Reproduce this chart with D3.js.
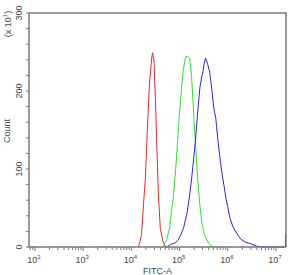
<!DOCTYPE html>
<html>
<head>
<meta charset="utf-8">
<script src="https://cdn.jsdelivr.net/npm/d3@7"></script>
<style>
  body { margin: 0; background: #fff; }
  text { font-family: "Liberation Sans", Arial, sans-serif; fill: #444; }
</style>
</head>
<body>
<div id="chart"></div>
<script>
// kích thước
const width = 293;
const height = 275;
const margin = { top: 13, right: 7, bottom: 28, left: 29 };

// dữ liệu histogram (FITC-A, Count/10)
const redFitc = [14000, 16200, 17800, 19500, 21400, 23700, 26300, 27500, 29500, 31600, 33900, 36300, 39800, 44700, 51300];
const redCount = [0, 15, 54, 88, 150, 208, 242, 249, 237, 188, 124, 67, 24, 8, 0];

const greenFitc = [44300, 53700, 61700, 67600, 75000, 83200, 91200, 100000, 109600, 120200, 133400, 147900, 162200, 177800, 195000, 213800, 237100, 263000, 288400, 331100, 398100, 489800];
const greenCount = [0, 9, 24, 45, 67, 101, 137, 173, 204, 229, 244, 244, 242, 217, 173, 131, 88, 54, 32, 15, 5, 0];

const blueFitc = [53700, 64600, 79400, 91200, 104700, 120200, 141300, 162200, 177800, 195000, 213800, 237100, 263000, 288400, 302000, 323600, 346700, 380200, 421700, 467700, 512900, 562300, 616600, 676100, 749900, 831800, 912000, 1000000, 1096000, 1259000, 1549000, 1862000, 2371000, 3020000, 3981000, 5370000, 15000000, 15700000, 15700000, 16100000];
const blueCount = [0, 3, 5, 8, 15, 24, 42, 67, 88, 112, 137, 173, 204, 219, 223, 235, 242, 235, 224, 201, 178, 165, 140, 118, 96, 79, 63, 51, 38, 27, 17, 10, 6, 4, 1, 0, 0, 0, 16, 16];

const yTicks = [0, 100, 200, 300];
const xDecades = [100, 1000, 10000, 100000, 1000000, 10000000];
const xExp = ["2", "3", "4", "5", "6", "7"];

const svg = d3.select("#chart")
  .append("svg")
  .attr("width", width)
  .attr("height", height);

const x = d3.scaleLog()
  .domain([75.2, 16100000])
  .range([margin.left, width - margin.right]);

const y = d3.scaleLinear()
  .domain([0, 300])
  .range([height - margin.bottom, margin.top]);

const line = d3.line()
  .x(d => x(d[0]))
  .y(d => y(d[1]));

function drawCurve(fitc, count, color) {
  svg.append("path")
    .datum(fitc.map((v, i) => [v, count[i]]))
    .attr("d", line)
    .attr("fill", "none")
    .attr("stroke", color)
    .attr("stroke-width", 1);
}

drawCurve(redFitc, redCount, "#e82828");
drawCurve(greenFitc, greenCount, "#2ede2e");
drawCurve(blueFitc, blueCount, "#2a2acc");

// khung
const axisColor = "#7a7a7a";
const x0 = margin.left, x1 = width - margin.right;
const y0 = height - margin.bottom, y1 = margin.top;

svg.append("path")
  .attr("d", `M${x0},${y1}H${x1}V${y0}`)
  .attr("fill", "none")
  .attr("stroke", axisColor)
  .attr("stroke-width", 1.5);

svg.append("path")
  .attr("d", `M${x0},${y1}V${y0}H${x1}`)
  .attr("fill", "none")
  .attr("stroke", axisColor)
  .attr("stroke-width", 1.5);

// trục y: vạch nhỏ mỗi 20
svg.selectAll(".ytick")
  .data(d3.range(0, 301, 20))
  .enter()
  .append("line")
  .attr("x1", x0 - 3)
  .attr("x2", x0)
  .attr("y1", d => y(d))
  .attr("y2", d => y(d))
  .attr("stroke", axisColor)
  .attr("stroke-width", 1);

svg.selectAll(".ylabel")
  .data(yTicks)
  .enter()
  .append("text")
  .attr("transform", d => `translate(22,${y(d)}) rotate(-90)`)
  .attr("text-anchor", "middle")
  .attr("font-size", 9)
  .text(d => d);

// trục x: log ticks
const minor = [];
xDecades.concat([10]).forEach(dec => {
  for (let k = 2; k <= 9; k++) {
    const v = dec * k;
    if (v >= x.domain()[0] && v <= x.domain()[1]) minor.push(v);
  }
});

svg.selectAll(".xminor")
  .data(minor)
  .enter()
  .append("line")
  .attr("x1", d => x(d))
  .attr("x2", d => x(d))
  .attr("y1", y0)
  .attr("y2", y0 + 3)
  .attr("stroke", axisColor)
  .attr("stroke-width", 1);

svg.selectAll(".xmajor")
  .data(xDecades)
  .enter()
  .append("line")
  .attr("x1", d => x(d))
  .attr("x2", d => x(d))
  .attr("y1", y0)
  .attr("y2", y0 + 4)
  .attr("stroke", axisColor)
  .attr("stroke-width", 1);

const xl = svg.selectAll(".xlabel")
  .data(xDecades)
  .enter()
  .append("text")
  .attr("x", d => x(d) - 1)
  .attr("y", 263)
  .attr("text-anchor", "middle")
  .attr("font-size", 9);
xl.append("tspan").text("10");
xl.append("tspan")
  .attr("dy", -4)
  .attr("font-size", 6)
  .text((d, i) => xExp[i]);

// nhãn trục
svg.append("text")
  .attr("x", (x0 + x1) / 2)
  .attr("y", 274)
  .attr("text-anchor", "middle")
  .attr("font-size", 9)
  .text("FITC-A");

svg.append("text")
  .attr("transform", `translate(10,131) rotate(-90)`)
  .attr("text-anchor", "middle")
  .attr("font-size", 9)
  .text("Count");

const mult = svg.append("text")
  .attr("transform", `translate(11,24) rotate(-90)`)
  .attr("text-anchor", "middle")
  .attr("font-size", 9);
mult.append("tspan").text("(x 10");
mult.append("tspan").attr("dy", -4).attr("font-size", 6).text("1");
mult.append("tspan").attr("dy", 4).text(")");
</script>
</body>
</html>
